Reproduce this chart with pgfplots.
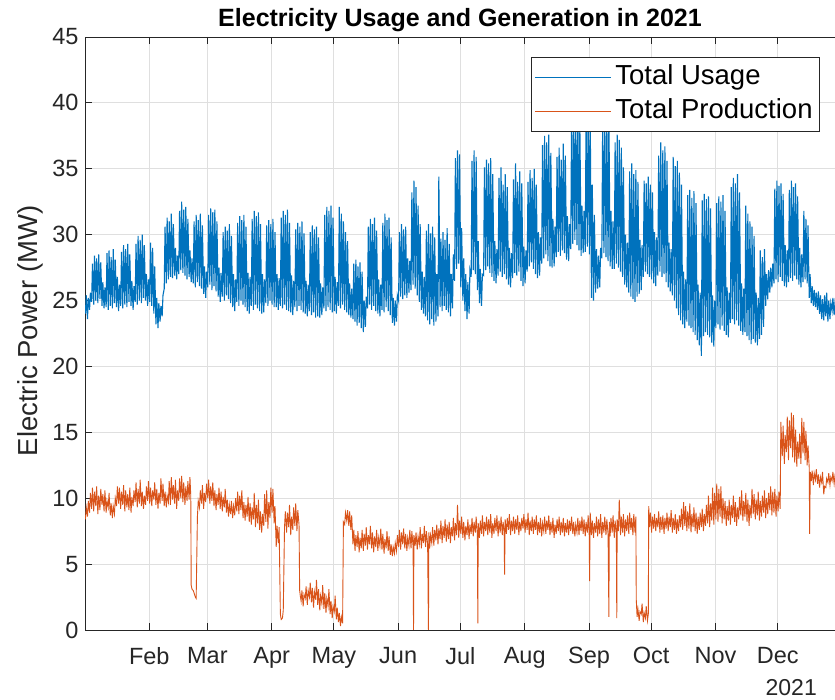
\documentclass[border=0pt]{standalone}
\usepackage{fontspec}
\setmainfont{Liberation Sans}
\usepackage{pgfplots}
\pgfplotsset{compat=1.18}
\definecolor{mblue}{rgb}{0,0.447,0.741}
\definecolor{morange}{rgb}{0.85,0.325,0.098}
\definecolor{axgray}{rgb}{0.15,0.15,0.15}
\definecolor{gridgray}{rgb}{0.875,0.875,0.875}
\begin{document}
\begin{tikzpicture}[x=1pt,y=1pt]
\useasboundingbox (0,0) rectangle (835,700);
\begin{axis}[
  at={(85pt,70pt)}, anchor=south west,
  width=757pt, height=593pt, scale only axis,
  xmin=0, xmax=365, ymin=0, ymax=45,
  xtick={31,59,90,120,151,181,212,243,273,304,334},
  xticklabels={Feb,Mar,Apr,May,Jun,Jul,Aug,Sep,Oct,Nov,Dec},
  ytick={0,5,...,45},
  grid=major,
  grid style={gridgray, line width=0.8pt},
  axis line style={axgray, line width=0.9pt},
  tick style={axgray, line width=0.9pt},
  major tick length=7pt,
  tick align=inside,
  ticklabel style={font=\fontsize{23.5}{27}\selectfont, text=axgray},
  /pgf/number format/assume math mode=true,
  xticklabel style={yshift=-14pt},
  yticklabel style={xshift=-3pt},
  legend style={at={(0.971,0.966)}, anchor=north east, draw=axgray, line width=0.9pt, fill=white,
    font=\fontsize{27.5}{31}\selectfont, inner sep=3pt, row sep=0pt,
    nodes={inner sep=4pt, text height=20pt, text depth=6pt}},
  legend cell align=left,
  legend image code/.code={\draw[#1, line width=1pt] (0pt,0pt) -- (76pt,0pt);},
]
\addplot[mblue, line width=1.1pt] table[row sep=\\] {t v\\
0.2 24.0\\0.6 25.4\\
1.2 23.6\\1.6 25.2\\
2.2 24.3\\2.6 25.6\\
3.2 24.9\\3.6 27.8\\
4.2 24.7\\4.6 28.4\\
5.2 25.0\\5.6 28.2\\
6.2 24.8\\6.6 28.5\\
7.2 25.1\\7.6 27.9\\
8.2 24.6\\8.6 26.4\\
9.2 24.4\\9.6 26.0\\
10.2 24.5\\10.6 28.6\\
11.2 24.3\\11.6 28.8\\
12.2 24.6\\12.6 28.3\\
13.2 24.4\\13.6 28.9\\
14.2 24.8\\14.6 28.1\\
15.2 24.5\\15.6 26.8\\
16.2 24.2\\16.6 26.2\\
17.2 24.6\\17.6 28.7\\
18.2 24.4\\18.6 29.2\\
19.2 24.7\\19.6 28.9\\
20.2 24.5\\20.6 29.3\\
21.2 24.9\\21.6 28.5\\
22.2 24.6\\22.6 26.5\\
23.2 24.3\\23.6 26.1\\
24.2 24.9\\24.6 29.3\\
25.2 24.7\\25.6 29.9\\
26.2 25.0\\26.6 29.6\\
27.2 24.8\\27.6 30.0\\
28.2 25.2\\28.6 29.2\\
29.2 25.0\\29.6 27.0\\
30.2 24.6\\30.6 26.6\\
31.2 24.9\\31.6 29.4\\
32.2 24.6\\32.6 29.0\\
33.2 24.0\\33.6 27.6\\
34.2 23.2\\34.6 25.2\\
35.2 22.9\\35.6 24.8\\
36.2 23.4\\36.6 24.6\\
37.2 23.8\\37.6 25.4\\
38.2 25.9\\38.6 30.6\\
39.2 26.3\\39.6 31.3\\
40.2 26.6\\40.6 31.0\\
41.2 26.8\\41.6 31.6\\
42.2 26.7\\42.6 30.8\\
43.2 26.9\\43.6 29.0\\
44.2 26.6\\44.6 28.4\\
45.2 27.0\\45.6 31.8\\
46.2 27.3\\46.6 32.5\\
47.2 27.1\\47.6 31.9\\
48.2 26.9\\48.6 32.1\\
49.2 26.6\\49.6 31.2\\
50.2 26.8\\50.6 28.8\\
51.2 26.4\\51.6 28.2\\
52.2 26.3\\52.6 31.0\\
53.2 26.0\\53.6 31.5\\
54.2 26.4\\54.6 31.1\\
55.2 26.1\\55.6 31.6\\
56.2 25.9\\56.6 30.7\\
57.2 25.5\\57.6 27.6\\
58.2 25.2\\58.6 27.2\\
59.2 26.0\\59.6 31.5\\
60.2 26.2\\60.6 32.0\\
61.2 25.8\\61.6 31.7\\
62.2 26.1\\62.6 31.9\\
63.2 25.7\\63.6 31.0\\
64.2 25.3\\64.6 27.5\\
65.2 24.9\\65.6 27.1\\
66.2 25.3\\66.6 30.2\\
67.2 25.0\\67.6 30.6\\
68.2 25.4\\68.6 30.3\\
69.2 25.1\\69.6 30.8\\
70.2 24.8\\70.6 29.9\\
71.2 24.5\\71.6 27.0\\
72.2 24.2\\72.6 26.6\\
73.2 24.9\\73.6 30.9\\
74.2 24.6\\74.6 31.4\\
75.2 25.0\\75.6 31.1\\
76.2 24.7\\76.6 31.5\\
77.2 24.5\\77.6 30.6\\
78.2 24.2\\78.6 27.1\\
79.2 24.0\\79.6 26.8\\
80.2 24.6\\80.6 31.2\\
81.2 24.3\\81.6 31.8\\
82.2 24.7\\82.6 31.4\\
83.2 24.4\\83.6 31.7\\
84.2 24.2\\84.6 30.8\\
85.2 24.0\\85.6 27.0\\
86.2 24.1\\86.6 26.6\\
87.2 24.8\\87.6 30.7\\
88.2 24.6\\88.6 31.1\\
89.2 25.0\\89.6 30.8\\
90.2 24.7\\90.6 31.2\\
91.2 24.5\\91.6 30.2\\
92.2 24.5\\92.6 27.0\\
93.2 24.3\\93.6 26.7\\
94.2 24.6\\94.6 31.3\\
95.2 24.4\\95.6 31.8\\
96.2 24.7\\96.6 31.5\\
97.2 24.3\\97.6 31.9\\
98.2 24.2\\98.6 30.9\\
99.2 24.1\\99.6 26.9\\
100.2 23.9\\100.6 26.5\\
101.2 24.5\\101.6 30.4\\
102.2 24.2\\102.6 30.9\\
103.2 24.6\\103.6 30.6\\
104.2 24.3\\104.6 31.0\\
105.2 24.1\\105.6 30.1\\
106.2 24.0\\106.6 26.5\\
107.2 23.8\\107.6 26.2\\
108.2 24.2\\108.6 30.2\\
109.2 23.9\\109.6 30.7\\
110.2 24.1\\110.6 30.4\\
111.2 23.7\\111.6 30.6\\
112.2 23.8\\112.6 29.8\\
113.2 23.7\\113.6 26.3\\
114.2 23.9\\114.6 26.0\\
115.2 24.4\\115.6 31.5\\
116.2 24.2\\116.6 32.1\\
117.2 24.5\\117.6 31.8\\
118.2 24.3\\118.6 32.2\\
119.2 24.1\\119.6 31.3\\
120.2 24.2\\120.6 26.8\\
121.2 24.0\\121.6 26.4\\
122.2 24.6\\122.6 32.1\\
123.2 24.4\\123.6 31.6\\
124.2 24.7\\124.6 31.0\\
125.2 24.3\\125.6 30.2\\
126.2 24.1\\126.6 29.5\\
127.2 23.9\\127.6 26.3\\
128.2 23.7\\128.6 25.9\\
129.2 23.6\\129.6 27.8\\
130.2 23.4\\130.6 28.1\\
131.2 23.1\\131.6 27.6\\
132.2 23.3\\132.6 27.9\\
133.2 22.9\\133.6 27.2\\
134.2 22.6\\134.6 25.0\\
135.2 23.0\\135.6 25.3\\
136.2 24.4\\136.6 30.6\\
137.2 24.7\\137.6 31.2\\
138.2 24.3\\138.6 30.8\\
139.2 24.6\\139.6 31.3\\
140.2 24.2\\140.6 30.3\\
141.2 24.0\\141.6 26.6\\
142.2 23.8\\142.6 26.2\\
143.2 24.3\\143.6 30.9\\
144.2 24.1\\144.6 31.6\\
145.2 24.5\\145.6 31.1\\
146.2 24.2\\146.6 31.3\\
147.2 23.9\\147.6 29.8\\
148.2 23.3\\148.6 25.2\\
149.2 23.1\\149.6 25.0\\
150.2 23.4\\150.6 25.4\\
151.2 25.0\\151.6 30.2\\
152.2 25.3\\152.6 30.8\\
153.2 25.1\\153.6 30.4\\
154.2 25.4\\154.6 30.6\\
155.2 25.2\\155.6 28.2\\
156.2 25.6\\156.6 28.0\\
157.2 25.8\\157.6 33.2\\
158.2 26.2\\158.6 34.1\\
159.2 25.9\\159.6 33.6\\
160.2 25.4\\160.6 32.2\\
161.2 24.9\\161.6 30.8\\
162.2 24.3\\162.6 27.2\\
163.2 24.0\\163.6 26.8\\
164.2 23.8\\164.6 30.3\\
165.2 23.5\\165.6 30.8\\
166.2 23.2\\166.6 30.1\\
167.2 23.6\\167.6 30.6\\
168.2 23.1\\168.6 29.8\\
169.2 23.4\\169.6 27.0\\
170.2 23.8\\170.6 34.4\\
171.2 24.5\\171.6 29.7\\
172.2 24.2\\172.6 30.2\\
173.2 24.6\\173.6 29.6\\
174.2 24.3\\174.6 30.5\\
175.2 24.1\\175.6 29.3\\
176.2 23.8\\176.6 27.0\\
177.2 24.4\\177.6 28.5\\
178.2 26.5\\178.6 35.8\\
179.2 27.4\\179.6 36.4\\
180.2 27.8\\180.6 36.1\\
181.2 26.0\\181.6 30.5\\
182.2 25.0\\182.6 28.2\\
183.2 24.2\\183.6 27.0\\
184.2 23.6\\184.6 26.4\\
185.2 24.0\\185.6 27.3\\
186.2 26.8\\186.6 35.6\\
187.2 27.3\\187.6 36.4\\
188.2 27.0\\188.6 35.9\\
189.2 25.8\\189.6 29.5\\
190.2 24.8\\190.6 27.4\\
191.2 24.6\\191.6 27.0\\
192.2 26.9\\192.6 35.1\\
193.2 27.3\\193.6 35.7\\
194.2 27.6\\194.6 35.4\\
195.2 27.1\\195.6 35.8\\
196.2 26.8\\196.6 34.6\\
197.2 26.5\\197.6 29.5\\
198.2 26.3\\198.6 28.9\\
199.2 26.9\\199.6 34.3\\
200.2 27.2\\200.6 35.1\\
201.2 26.8\\201.6 33.8\\
202.2 27.0\\202.6 34.6\\
203.2 26.6\\203.6 33.6\\
204.2 26.2\\204.6 29.0\\
205.2 26.0\\205.6 28.6\\
206.2 26.7\\206.6 34.2\\
207.2 27.1\\207.6 35.4\\
208.2 26.9\\208.6 34.0\\
209.2 27.2\\209.6 34.8\\
210.2 26.5\\210.6 33.9\\
211.2 26.1\\211.6 29.1\\
212.2 26.3\\212.6 28.8\\
213.2 27.2\\213.6 34.0\\
214.2 27.6\\214.6 34.9\\
215.2 27.9\\215.6 34.3\\
216.2 27.4\\216.6 35.0\\
217.2 27.0\\217.6 33.8\\
218.2 26.7\\218.6 30.2\\
219.2 26.9\\219.6 29.8\\
220.2 27.8\\220.6 36.8\\
221.2 28.2\\221.6 37.5\\
222.2 28.5\\222.6 37.0\\
223.2 28.0\\223.6 37.6\\
224.2 27.6\\224.6 36.2\\
225.2 27.5\\225.6 31.2\\
226.2 27.6\\226.6 30.6\\
227.2 28.3\\227.6 35.9\\
228.2 28.7\\228.6 36.6\\
229.2 28.4\\229.6 35.7\\
230.2 28.8\\230.6 36.9\\
231.2 28.6\\231.6 36.0\\
232.2 28.1\\232.6 31.4\\
233.2 28.0\\233.6 30.8\\
234.2 28.9\\234.6 38.6\\
235.2 29.3\\235.6 39.4\\
236.2 29.6\\236.6 39.1\\
237.2 29.2\\237.6 39.8\\
238.2 28.8\\238.6 38.4\\
239.2 28.4\\239.6 32.2\\
240.2 28.6\\240.6 31.8\\
241.2 28.7\\241.6 39.2\\
242.2 29.1\\242.6 39.9\\
243.2 28.5\\243.6 39.0\\
244.2 25.2\\244.6 33.8\\
245.2 25.0\\245.6 31.5\\
246.2 25.6\\246.6 28.9\\
247.2 25.9\\247.6 28.4\\
248.2 26.0\\248.6 29.0\\
249.2 28.2\\249.6 38.6\\
250.2 28.6\\250.6 39.3\\
251.2 28.3\\251.6 38.8\\
252.2 28.0\\252.6 39.1\\
253.2 27.6\\253.6 31.8\\
254.2 27.4\\254.6 31.0\\
255.2 27.4\\255.6 37.0\\
256.2 27.8\\256.6 37.6\\
257.2 27.5\\257.6 37.2\\
258.2 27.2\\258.6 36.6\\
259.2 26.8\\259.6 35.1\\
260.2 26.2\\260.6 30.0\\
261.2 26.0\\261.6 29.4\\
262.2 25.6\\262.6 34.8\\
263.2 25.3\\263.6 35.4\\
264.2 25.1\\264.6 34.6\\
265.2 24.9\\265.6 34.9\\
266.2 25.3\\266.6 34.0\\
267.2 25.5\\267.6 29.6\\
268.2 25.8\\268.6 29.2\\
269.2 26.8\\269.6 34.1\\
270.2 27.2\\270.6 33.9\\
271.2 27.0\\271.6 34.4\\
272.2 26.8\\272.6 33.8\\
273.2 26.6\\273.6 33.2\\
274.2 26.3\\274.6 30.2\\
275.2 26.1\\275.6 29.8\\
276.2 26.9\\276.6 36.0\\
277.2 27.2\\277.6 37.0\\
278.2 26.8\\278.6 36.4\\
279.2 27.0\\279.6 36.7\\
280.2 26.4\\280.6 35.6\\
281.2 26.0\\281.6 29.4\\
282.2 25.7\\282.6 28.9\\
283.2 25.4\\283.6 35.9\\
284.2 25.0\\284.6 35.2\\
285.2 24.4\\285.6 35.6\\
286.2 23.9\\286.6 34.7\\
287.2 23.5\\287.6 33.8\\
288.2 23.2\\288.6 27.2\\
289.2 22.9\\289.6 26.6\\
290.2 23.4\\290.6 33.0\\
291.2 23.1\\291.6 33.4\\
292.2 22.9\\292.6 32.8\\
293.2 22.6\\293.6 33.3\\
294.2 22.4\\294.6 32.4\\
295.2 22.0\\295.6 26.2\\
296.2 21.6\\296.6 25.6\\
297.2 20.8\\297.6 32.6\\
298.2 22.3\\298.6 33.1\\
299.2 22.6\\299.6 32.7\\
300.2 22.4\\300.6 32.9\\
301.2 22.2\\301.6 32.0\\
302.2 21.8\\302.6 25.4\\
303.2 21.5\\303.6 25.0\\
304.2 22.9\\304.6 32.4\\
305.2 23.2\\305.6 32.9\\
306.2 22.8\\306.6 32.5\\
307.2 23.1\\307.6 33.0\\
308.2 22.7\\308.6 31.8\\
309.2 22.4\\309.6 26.0\\
310.2 22.2\\310.6 25.6\\
311.2 23.3\\311.6 33.6\\
312.2 23.6\\312.6 34.3\\
313.2 23.2\\313.6 33.9\\
314.2 23.5\\314.6 34.6\\
315.2 23.1\\315.6 33.2\\
316.2 22.7\\316.6 26.3\\
317.2 22.4\\317.6 25.9\\
318.2 22.6\\318.6 32.2\\
319.2 22.3\\319.6 31.6\\
320.2 22.0\\320.6 31.0\\
321.2 21.7\\321.6 30.6\\
322.2 22.1\\322.6 29.9\\
323.2 21.8\\323.6 25.6\\
324.2 21.6\\324.6 25.2\\
325.2 22.1\\325.6 28.8\\
326.2 22.4\\326.6 28.3\\
327.2 23.0\\327.6 28.9\\
328.2 24.6\\328.6 27.0\\
329.2 25.1\\329.6 27.3\\
330.2 25.6\\330.6 27.5\\
331.2 26.0\\331.6 27.8\\
332.2 26.3\\332.6 33.5\\
333.2 26.6\\333.6 34.1\\
334.2 26.4\\334.6 33.7\\
335.2 26.8\\335.6 33.9\\
336.2 26.5\\336.6 33.1\\
337.2 26.1\\337.6 29.2\\
338.2 26.0\\338.6 28.8\\
339.2 26.4\\339.6 33.4\\
340.2 26.7\\340.6 34.1\\
341.2 26.5\\341.6 33.6\\
342.2 26.9\\342.6 33.9\\
343.2 26.6\\343.6 32.9\\
344.2 26.2\\344.6 29.0\\
345.2 26.0\\345.6 28.5\\
346.2 26.4\\346.6 31.8\\
347.2 26.6\\347.6 31.2\\
348.2 26.3\\348.6 30.7\\
349.2 25.2\\349.6 27.0\\
350.2 24.8\\350.6 26.1\\
351.2 24.6\\351.6 25.8\\
352.2 24.5\\352.6 25.6\\
353.2 24.3\\353.6 25.7\\
354.2 24.0\\354.6 25.4\\
355.2 23.6\\355.6 25.1\\
356.2 23.5\\356.6 25.4\\
357.2 23.8\\357.6 25.6\\
358.2 23.4\\358.6 25.0\\
359.2 23.6\\359.6 24.8\\
360.2 24.2\\360.6 25.2\\
361.2 23.9\\361.6 24.8\\
362.2 24.1\\362.6 25.0\\
};
\addlegendentry{Total Usage}
\addplot[morange, line width=0.9pt] table[row sep=\\] {t v\\
0.2 8.4\\0.6 9.3\\
1.2 8.6\\1.6 9.8\\
2.2 8.9\\2.6 10.4\\
3.2 9.2\\3.6 10.8\\
4.2 9.0\\4.6 10.5\\
5.2 9.4\\5.6 10.9\\
6.2 8.8\\6.6 10.2\\
7.2 9.1\\7.6 10.7\\
8.2 9.5\\8.6 10.3\\
9.2 9.0\\9.6 10.6\\
10.2 8.9\\10.6 9.8\\
11.2 9.3\\11.6 10.4\\
12.2 8.7\\12.6 9.6\\
13.2 8.5\\13.6 9.4\\
14.2 8.8\\14.6 10.0\\
15.2 9.4\\15.6 10.9\\
16.2 9.6\\16.6 10.8\\
17.2 9.2\\17.6 10.5\\
18.2 9.5\\18.6 11.0\\
19.2 9.0\\19.6 10.6\\
20.2 9.3\\20.6 10.3\\
21.2 9.1\\21.6 10.8\\
22.2 8.9\\22.6 10.1\\
23.2 9.4\\23.6 10.6\\
24.2 9.7\\24.6 11.2\\
25.2 9.3\\25.6 10.7\\
26.2 9.6\\26.6 11.4\\
27.2 9.4\\27.6 10.5\\
28.2 9.2\\28.6 10.2\\
29.2 9.5\\29.6 10.9\\
30.2 9.8\\30.6 11.3\\
31.2 9.6\\31.6 10.8\\
32.2 9.4\\32.6 10.6\\
33.2 9.9\\33.6 11.2\\
34.2 9.5\\34.6 10.7\\
35.2 9.2\\35.6 10.4\\
36.2 9.6\\36.6 11.5\\
37.2 9.8\\37.6 11.1\\
38.2 9.4\\38.6 10.5\\
39.2 9.3\\39.6 10.2\\
40.2 9.7\\40.6 11.3\\
41.2 9.5\\41.6 11.6\\
42.2 9.9\\42.6 11.0\\
43.2 9.6\\43.6 11.4\\
44.2 9.2\\44.6 10.6\\
45.2 9.8\\45.6 11.5\\
46.2 10.0\\46.6 11.7\\
47.2 9.7\\47.6 11.2\\
48.2 9.5\\48.6 10.9\\
49.2 9.8\\49.6 11.3\\
50.2 9.9\\50.6 11.6\\
51.0 10.2\\51.2 3.4\\51.6 3.1\\
52.2 3.0\\52.6 2.8\\
53.2 2.5\\53.6 2.4\\
54.2 8.6\\54.6 9.8\\
55.2 9.3\\55.6 10.6\\
56.2 9.6\\56.6 11.0\\
57.2 9.2\\57.6 10.4\\
58.2 9.7\\58.6 11.1\\
59.2 10.0\\59.6 11.4\\
60.2 9.6\\60.6 10.9\\
61.2 9.8\\61.6 11.2\\
62.2 9.4\\62.6 10.6\\
63.2 9.1\\63.6 10.3\\
64.2 9.5\\64.6 10.8\\
65.2 9.2\\65.6 10.5\\
66.2 9.0\\66.6 10.1\\
67.2 9.3\\67.6 10.7\\
68.2 8.9\\68.6 9.9\\
69.2 8.6\\69.6 9.5\\
70.2 8.8\\70.6 9.8\\
71.2 8.5\\71.6 9.4\\
72.2 8.7\\72.6 10.0\\
73.2 9.0\\73.6 10.5\\
74.2 8.8\\74.6 10.2\\
75.2 9.1\\75.6 10.6\\
76.2 8.5\\76.6 9.7\\
77.2 8.3\\77.6 9.5\\
78.2 8.6\\78.6 10.1\\
79.2 8.2\\79.6 9.6\\
80.2 8.0\\80.6 9.3\\
81.2 8.4\\81.6 10.4\\
82.2 7.8\\82.6 9.5\\
83.2 8.1\\83.6 9.9\\
84.2 7.6\\84.6 9.0\\
85.2 7.4\\85.6 8.8\\
86.2 7.9\\86.6 10.3\\
87.2 8.2\\87.6 10.6\\
88.2 7.7\\88.6 9.7\\
89.2 8.5\\89.6 10.8\\
90.2 8.9\\90.6 10.7\\
91.2 8.1\\91.6 9.4\\
92.2 6.3\\92.6 7.9\\
93.2 6.6\\93.6 7.8\\
94.2 1.2\\94.6 0.8\\
95.2 0.9\\95.6 1.5\\
96.2 7.8\\96.6 9.0\\
97.2 7.4\\97.6 8.9\\
98.2 7.8\\98.6 9.5\\
99.2 7.2\\99.6 8.6\\
100.2 7.6\\100.6 9.3\\
101.2 7.9\\101.6 9.6\\
102.2 7.5\\102.6 9.1\\
103.2 8.0\\103.5 3.0\\103.8 2.6\\
104.2 2.2\\104.6 3.0\\
105.2 1.8\\105.6 2.7\\
106.2 2.4\\106.6 3.3\\
107.2 1.9\\107.6 3.0\\
108.2 2.5\\108.6 3.6\\
109.2 2.1\\109.6 3.2\\
110.2 1.7\\110.6 2.9\\
111.2 2.3\\111.6 3.8\\
112.2 1.9\\112.6 3.1\\
113.2 1.5\\113.6 2.6\\
114.2 2.0\\114.6 3.4\\
115.2 1.6\\115.6 2.8\\
116.2 1.3\\116.6 2.4\\
117.2 1.8\\117.6 3.1\\
118.2 1.2\\118.6 2.2\\
119.2 0.9\\119.6 1.8\\
120.2 1.4\\120.6 2.6\\
121.2 0.8\\121.6 1.7\\
122.2 0.6\\122.6 1.3\\
123.2 0.3\\123.6 1.0\\
124.2 0.5\\124.6 8.2\\
125.2 8.0\\125.6 8.9\\
126.2 8.3\\126.6 9.1\\
127.2 7.9\\127.6 9.0\\
128.2 7.6\\128.6 8.7\\
129.2 6.5\\129.6 7.6\\
130.2 6.0\\130.6 7.2\\
131.2 6.3\\131.6 7.5\\
132.2 5.9\\132.6 7.0\\
133.2 6.2\\133.6 7.6\\
134.2 6.0\\134.6 7.3\\
135.2 6.4\\135.6 7.8\\
136.2 6.1\\136.6 7.2\\
137.2 6.5\\137.6 7.9\\
138.2 6.2\\138.6 7.4\\
139.2 5.9\\139.6 7.1\\
140.2 6.3\\140.6 7.6\\
141.2 6.0\\141.6 7.0\\
142.2 6.4\\142.6 7.7\\
143.2 6.1\\143.6 7.3\\
144.2 5.8\\144.6 6.9\\
145.2 6.2\\145.6 7.5\\
146.2 6.0\\146.6 7.1\\
147.2 5.7\\147.6 6.5\\
148.2 5.6\\148.6 6.3\\
149.2 5.8\\149.6 6.6\\
150.2 6.0\\150.6 7.2\\
151.2 6.3\\151.6 7.6\\
152.2 6.1\\152.6 7.4\\
153.2 6.5\\153.6 7.7\\
154.2 6.2\\154.6 7.3\\
155.2 6.0\\155.6 7.0\\
156.2 6.4\\156.6 7.6\\
157.2 6.2\\157.6 7.5\\
158.2 6.3\\158.4 0.0\\158.6 7.2\\
159.2 6.4\\159.6 7.4\\
160.2 6.1\\160.6 7.1\\
161.2 6.5\\161.6 7.8\\
162.2 6.2\\162.6 7.3\\
163.2 6.6\\163.6 7.9\\
164.2 6.3\\164.6 7.5\\
165.2 6.5\\165.6 0.0\\165.8 7.4\\
166.2 6.2\\166.6 7.2\\
167.2 6.6\\167.6 7.8\\
168.2 6.4\\168.6 7.6\\
169.2 6.8\\169.6 8.0\\
170.2 6.5\\170.6 7.7\\
171.2 6.9\\171.6 8.3\\
172.2 6.6\\172.6 7.9\\
173.2 7.0\\173.6 8.4\\
174.2 6.7\\174.6 8.0\\
175.2 6.9\\175.6 8.2\\
176.2 6.6\\176.6 7.8\\
177.2 7.1\\177.6 8.5\\
178.2 6.8\\178.6 8.1\\
179.2 7.2\\179.6 9.5\\
180.2 7.0\\180.6 8.3\\
181.2 7.3\\181.6 8.6\\
182.2 7.0\\182.6 8.2\\
183.2 6.8\\183.6 7.9\\
184.2 7.2\\184.6 8.4\\
185.2 6.9\\185.6 8.0\\
186.2 7.3\\186.6 8.5\\
187.2 7.1\\187.6 8.2\\
188.2 7.4\\188.6 8.6\\
189.2 7.2\\189.4 0.5\\189.6 8.1\\
190.2 7.0\\190.6 8.3\\
191.2 7.3\\191.6 8.7\\
192.2 7.1\\192.6 8.2\\
193.2 7.5\\193.6 8.6\\
194.2 7.2\\194.6 8.4\\
195.2 7.4\\195.6 8.8\\
196.2 7.0\\196.6 8.1\\
197.2 7.3\\197.6 8.5\\
198.2 7.5\\198.6 8.7\\
199.2 7.1\\199.6 8.3\\
200.2 7.4\\200.6 8.6\\
201.2 7.2\\201.6 8.2\\
202.1 7.5\\202.3 4.2\\202.6 8.4\\
203.2 7.3\\203.6 8.5\\
204.2 7.6\\204.6 8.8\\
205.2 7.2\\205.6 8.3\\
206.2 7.5\\206.6 8.6\\
207.2 7.3\\207.6 8.4\\
208.2 7.6\\208.6 8.7\\
209.2 7.2\\209.6 8.2\\
210.2 7.5\\210.6 8.5\\
211.2 7.7\\211.6 8.8\\
212.2 7.4\\212.6 8.4\\
213.2 7.6\\213.6 8.9\\
214.2 7.2\\214.6 8.3\\
215.2 7.5\\215.6 8.6\\
216.2 7.3\\216.6 8.4\\
217.2 7.6\\217.6 8.7\\
218.2 7.2\\218.6 8.2\\
219.2 7.4\\219.6 8.5\\
220.2 7.1\\220.6 8.1\\
221.2 7.5\\221.6 8.6\\
222.2 7.3\\222.6 8.3\\
223.2 7.6\\223.6 8.7\\
224.2 7.2\\224.6 8.2\\
225.2 7.4\\225.6 8.5\\
226.2 7.0\\226.6 8.0\\
227.2 7.3\\227.6 8.4\\
228.2 7.5\\228.6 8.6\\
229.2 7.2\\229.6 8.2\\
230.2 7.4\\230.6 8.5\\
231.2 7.1\\231.6 8.1\\
232.2 7.4\\232.6 8.4\\
233.2 7.2\\233.6 8.3\\
234.2 7.5\\234.6 8.6\\
235.2 7.3\\235.6 8.2\\
236.2 7.1\\236.6 8.0\\
237.2 7.4\\237.6 8.5\\
238.2 7.2\\238.6 8.3\\
239.2 7.5\\239.6 8.6\\
240.2 7.3\\240.6 8.4\\
241.2 7.1\\241.6 8.2\\
242.2 7.4\\242.6 8.7\\
243.1 7.3\\243.3 3.7\\243.6 8.9\\
244.2 7.2\\244.6 8.3\\
245.2 7.0\\245.6 8.1\\
246.2 7.4\\246.6 8.6\\
247.2 7.1\\247.6 8.4\\
248.2 7.3\\248.6 8.8\\
249.2 7.0\\249.6 8.2\\
250.2 7.4\\250.6 8.6\\
251.2 7.2\\251.6 8.4\\
252.2 7.3\\252.6 1.0\\252.8 8.2\\
253.2 7.1\\253.6 8.5\\
254.2 7.4\\254.6 8.7\\
255.2 7.0\\255.6 8.3\\
256.2 7.3\\256.4 0.9\\256.6 8.4\\
257.2 7.5\\257.6 9.9\\
258.2 7.2\\258.6 8.6\\
259.2 7.4\\259.6 8.8\\
260.2 7.1\\260.6 8.4\\
261.2 7.5\\261.6 8.7\\
262.2 7.3\\262.6 8.9\\
263.2 7.6\\263.6 8.5\\
264.2 7.2\\264.6 8.8\\
265.2 7.4\\265.6 8.6\\265.8 2.3\\
266.2 1.0\\266.6 1.6\\
267.2 0.7\\267.6 1.4\\
268.2 1.2\\268.6 2.0\\
269.2 0.6\\269.6 1.3\\
270.2 0.9\\270.6 1.8\\
271.2 0.7\\271.6 1.2\\271.8 9.4\\
272.2 7.8\\272.6 8.9\\
273.2 7.4\\273.6 8.6\\
274.2 7.7\\274.6 8.8\\
275.2 7.5\\275.6 8.5\\
276.2 7.8\\276.6 9.0\\
277.2 7.4\\277.6 8.6\\
278.2 7.6\\278.6 8.7\\
279.2 7.3\\279.6 8.5\\
280.2 7.7\\280.6 8.9\\
281.2 7.5\\281.6 8.6\\
282.2 7.8\\282.6 9.1\\
283.2 7.4\\283.6 8.5\\
284.2 7.6\\284.6 8.8\\
285.2 7.3\\285.6 8.4\\
286.2 7.5\\286.6 8.7\\
287.2 7.8\\287.6 9.2\\
288.2 7.6\\288.6 9.7\\
289.2 7.9\\289.6 9.4\\
290.2 7.5\\290.6 9.0\\
291.2 7.7\\291.6 9.6\\
292.2 7.4\\292.6 8.8\\
293.2 7.8\\293.6 9.3\\
294.2 7.5\\294.6 8.9\\
295.2 7.3\\295.6 8.6\\
296.2 7.6\\296.6 8.9\\
297.2 7.8\\297.6 9.2\\
298.2 7.5\\298.6 8.8\\
299.2 7.9\\299.6 9.5\\
300.2 8.1\\300.6 10.2\\
301.2 7.8\\301.6 9.6\\
302.2 8.3\\302.6 10.8\\
303.2 8.0\\303.6 10.4\\
304.2 8.4\\304.6 11.1\\
305.2 8.2\\305.6 10.7\\
306.2 8.6\\306.6 10.9\\
307.2 8.1\\307.6 10.0\\
308.2 8.4\\308.6 9.8\\
309.2 7.9\\309.6 9.4\\
310.2 8.3\\310.6 9.9\\
311.2 8.0\\311.6 9.5\\
312.2 8.5\\312.6 10.2\\
313.2 8.2\\313.6 9.7\\
314.2 7.9\\314.6 9.3\\
315.2 8.4\\315.6 10.1\\
316.2 8.7\\316.6 10.6\\
317.2 8.3\\317.6 9.8\\
318.2 8.6\\318.6 10.4\\
319.2 8.2\\319.6 9.9\\
320.2 7.9\\320.6 9.5\\
321.2 8.5\\321.6 10.7\\
322.2 8.8\\322.6 10.3\\
323.2 8.4\\323.6 9.9\\
324.2 8.7\\324.6 10.5\\
325.2 8.3\\325.6 9.8\\
326.2 8.6\\326.6 10.2\\
327.2 8.9\\327.6 10.6\\
328.2 8.5\\328.6 10.0\\
329.2 8.8\\329.6 10.4\\
330.2 9.1\\330.6 10.9\\
331.2 8.7\\331.6 10.5\\
332.2 8.9\\332.6 10.7\\
333.2 8.6\\333.6 10.2\\
334.2 9.0\\334.6 10.5\\
335.2 9.2\\335.5 15.8\\
336.2 13.2\\336.6 15.5\\
337.2 12.6\\337.6 14.8\\
338.2 13.5\\338.6 16.2\\
339.2 12.9\\339.6 15.9\\
340.2 13.8\\340.6 16.5\\
341.2 13.1\\341.6 16.3\\
342.2 12.7\\342.6 15.2\\
343.2 12.4\\343.6 14.3\\
344.2 13.0\\344.6 14.9\\
345.2 12.6\\345.6 16.1\\
346.2 13.4\\346.6 15.8\\
347.2 12.9\\347.6 15.1\\
348.2 12.5\\348.6 14.0\\
349.2 12.3\\349.4 7.3\\349.7 12.0\\
350.2 11.3\\350.6 12.1\\
351.2 11.0\\351.6 11.9\\
352.2 11.4\\352.6 12.2\\
353.2 11.1\\353.6 11.8\\
354.2 10.8\\354.6 11.6\\
355.2 11.2\\355.6 12.0\\
356.2 10.3\\356.6 10.9\\
357.2 10.8\\357.6 11.5\\
358.2 11.2\\358.6 11.9\\
359.2 11.0\\359.6 11.6\\
360.2 11.3\\360.6 12.0\\
361.2 11.1\\361.6 11.7\\
362.2 11.4\\362.6 11.8\\
};
\addlegendentry{Total Production}
\end{axis}
\node[font=\bfseries\fontsize{25}{30}\selectfont, text=black, anchor=base] at (460,673) {Electricity Usage and Generation in 2021};
\node[rotate=90, anchor=base, font=\fontsize{27.5}{32}\selectfont, text=axgray, inner sep=0pt] at (37,369) {Electric Power (MW)};
\node[anchor=base east, font=\fontsize{23}{27}\selectfont, text=axgray, inner sep=0pt] at (817,4) {2021};
\end{tikzpicture}
\end{document}
